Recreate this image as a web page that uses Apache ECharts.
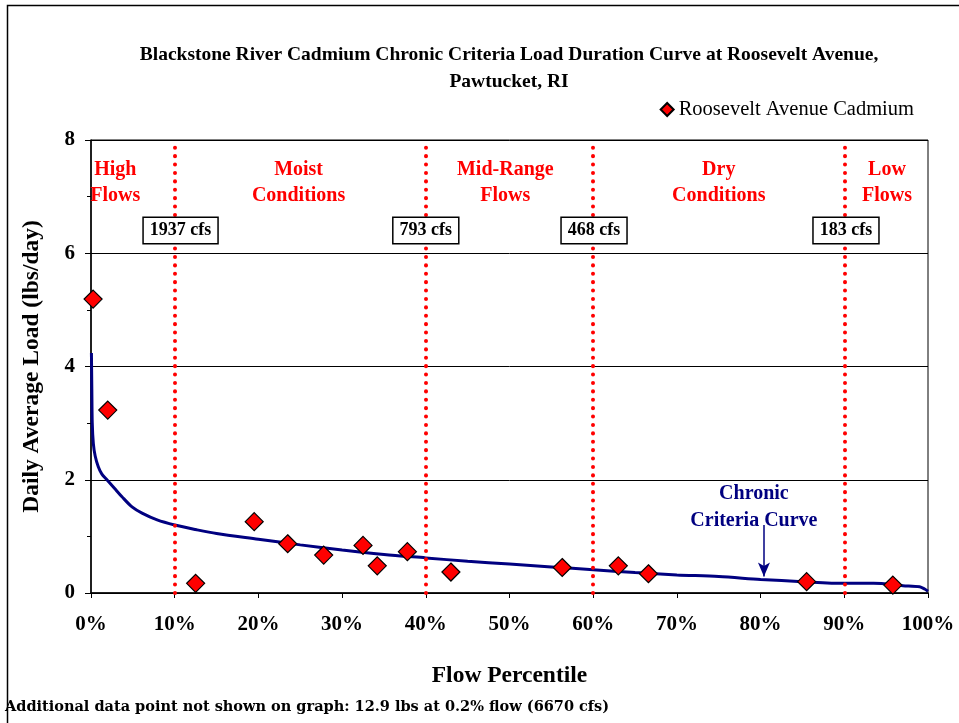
<!DOCTYPE html>
<html>
<head>
<meta charset="utf-8">
<script src="https://cdn.jsdelivr.net/npm/echarts@6/dist/echarts.min.js"></script>
<style>
html,body{margin:0;padding:0;background:#fff;}
#chart{width:959px;height:723px;}
</style>
</head>
<body>
<div id="chart"></div>
<script>
// ---- data ----
const titleText = 'Blackstone River Cadmium Chronic Criteria Load Duration Curve at Roosevelt Avenue,\nPawtucket, RI';
const scatterName = 'Roosevelt Avenue Cadmium';
const samplePercentile = [0.25, 2.0, 12.5, 19.5, 23.5, 27.8, 32.5, 34.2, 37.8, 43.0, 56.3, 63.0, 66.6, 85.5, 95.8];
const sampleLoad = [5.19, 3.23, 0.17, 1.26, 0.87, 0.67, 0.84, 0.48, 0.73, 0.37, 0.45, 0.48, 0.34, 0.20, 0.14];
const curvePercentile = [0.05, 0.1, 0.15, 0.28, 0.5, 0.87, 1.3, 1.9, 2.8, 3.7, 4.9, 6.1, 7.9, 10, 12.5, 15, 20, 25, 30, 35, 40, 45, 50, 55, 60, 65, 70, 75, 80, 85, 90, 93.5, 97, 99, 99.6, 100];
const curveLoad = [4.24, 3.6, 3.0, 2.64, 2.42, 2.23, 2.1, 2.0, 1.85, 1.70, 1.52, 1.41, 1.29, 1.20, 1.12, 1.05, 0.95, 0.85, 0.76, 0.68, 0.62, 0.56, 0.51, 0.46, 0.41, 0.36, 0.32, 0.29, 0.24, 0.20, 0.17, 0.17, 0.13, 0.11, 0.07, 0.03];
const zoneBounds = [10, 40, 60, 90];
const zoneFlows = ['1937 cfs', '793 cfs', '468 cfs', '183 cfs'];
const zoneNames = ['High\nFlows', 'Moist\nConditions', 'Mid-Range\nFlows', 'Dry\nConditions', 'Low\nFlows'];
const xTicks = [0, 10, 20, 30, 40, 50, 60, 70, 80, 90, 100];
const yTicks = [0, 2, 4, 6, 8];
const curveLabel = 'Chronic\nCriteria Curve';
const footnote = 'Additional data point not shown on graph: 12.9 lbs at 0.2% flow (6670 cfs)';

// ---- chart ----
const FONT = '"Liberation Serif", "Times New Roman", serif';
const chart = echarts.init(document.getElementById('chart'), null, {renderer: 'canvas'});

const zoneLabelX = [2.9, 24.8, 49.5, 75.0, 95.1];
const flowBoxX = [10.7, 40.0, 60.1, 90.2];
const solid = {opacity: 1};

const option = {
  animation: false,
  backgroundColor: '#fff',
  title: {
    text: titleText,
    left: 504, top: 36, textAlign: 'center',
    textStyle: {fontFamily: FONT, fontWeight: 'bold', fontSize: 19.5, lineHeight: 27, color: '#000'}
  },
  legend: {
    data: [{name: scatterName, icon: 'diamond'}],
    right: 40, top: 94,
    itemWidth: 13, itemHeight: 13, itemGap: 4,
    textStyle: {fontFamily: FONT, fontSize: 20.5, color: '#000'}
  },
  grid: {left: 91, right: 31, top: 140, bottom: 130, show: true, borderColor: '#000', borderWidth: 1, backgroundColor: '#fff'},
  xAxis: {
    type: 'value', min: 0, max: 100, interval: 10,
    name: 'Flow Percentile', nameLocation: 'middle', nameGap: 71,
    nameTextStyle: {fontFamily: FONT, fontWeight: 'bold', fontSize: 23.5, color: '#000'},
    axisLine: {show: true, onZero: false, lineStyle: {color: '#000', width: 1.5}},
    axisTick: {show: true, length: 5, lineStyle: {color: '#000'}},
    axisLabel: {formatter: v => xTicks.includes(v) ? v + '%' : '', margin: 21, fontFamily: FONT, fontWeight: 'bold', fontSize: 21, color: '#000'},
    splitLine: {show: false}
  },
  yAxis: {
    type: 'value', min: 0, max: 8, interval: 2,
    name: 'Daily Average Load (lbs/day)', nameLocation: 'middle', nameGap: 47,
    nameTextStyle: {fontFamily: FONT, fontWeight: 'bold', fontSize: 23.5, color: '#000'},
    axisLine: {show: true, lineStyle: {color: '#000', width: 1.5}},
    axisTick: {show: true, length: 6, lineStyle: {color: '#000'}},
    minorTick: {show: true, splitNumber: 2, length: 4, lineStyle: {color: '#000'}},
    axisLabel: {formatter: v => yTicks.includes(v) ? String(v) : '', margin: 16, fontFamily: FONT, fontWeight: 'bold', fontSize: 21, color: '#000'},
    splitLine: {show: true, lineStyle: {color: '#000', width: 1}}
  },
  series: [
    {
      name: 'Chronic Criteria', type: 'line', smooth: 0.3, showSymbol: false, symbol: 'none',
      data: curvePercentile.map((x, i) => [x, curveLoad[i]]),
      lineStyle: {color: '#000080', width: 3}, z: 3,
      markLine: {
        silent: true, symbol: ['none', 'arrow'], symbolSize: [9, 14],
        lineStyle: {color: '#000080', width: 1.5, type: 'solid'},
        label: {show: false},
        data: [[{coord: [80.4, 1.20]}, {coord: [80.4, 0.29]}]]
      }
    },
    {
      name: 'zones', type: 'scatter', symbolSize: 0, silent: true, z: 2,
      data: zoneBounds.map(b => [b, 0]),
      markLine: {
        silent: true, symbol: ['none', 'none'],
        lineStyle: {color: '#ff0000', width: 4, type: [0.1, 8.3], cap: 'round', opacity: 1},
        label: {show: false},
        data: zoneBounds.map(b => ({xAxis: b}))
      }
    },
    {
      name: 'zoneNames', type: 'scatter', symbolSize: 0, silent: true, z: 5, itemStyle: solid,
      data: zoneNames.map((n, i) => ({value: [zoneLabelX[i], 7.25], name: n})),
      label: {show: true, position: 'inside', formatter: p => p.name, fontFamily: FONT, fontWeight: 'bold', fontSize: 20, lineHeight: 26, color: '#ff0000', align: 'center', verticalAlign: 'middle'}
    },
    {
      name: 'flowBoxes', type: 'scatter', symbolSize: 0, silent: true, z: 6, itemStyle: solid,
      data: zoneFlows.map((n, i) => ({value: [flowBoxX[i], 6.40], name: n})),
      label: {show: true, position: 'inside', formatter: p => p.name, fontFamily: FONT, fontWeight: 'bold', fontSize: 18, color: '#000',
        backgroundColor: '#fff', borderColor: '#000', borderWidth: 1.5, padding: [4, 6, 3, 6], align: 'center', verticalAlign: 'middle'}
    },
    {
      name: 'curveLabel', type: 'scatter', symbolSize: 0, silent: true, z: 5, itemStyle: solid,
      data: [{value: [79.2, 1.51], name: curveLabel}],
      label: {show: true, position: 'inside', formatter: p => p.name, fontFamily: FONT, fontWeight: 'bold', fontSize: 20, lineHeight: 27, color: '#000080', align: 'center', verticalAlign: 'middle'}
    },
    {
      name: scatterName, type: 'scatter', symbol: 'diamond', symbolSize: 18, z: 10,
      data: samplePercentile.map((x, i) => [x, sampleLoad[i]]),
      itemStyle: {color: '#ff0000', borderColor: '#000', borderWidth: 1.2, opacity: 1}
    }
  ],
  graphic: [
    {type: 'rect', left: 5, top: 3, shape: {width: 960, height: 730}, style: {fill: 'none', stroke: '#000', lineWidth: 1.5}, silent: true, z: 100},
    {type: 'text', left: 5, top: 700, style: {text: footnote, font: 'bold 14.5px "DejaVu Serif", serif', fill: '#000'}, z: 100}
  ]
};
chart.setOption(option);
</script>
</body>
</html>
